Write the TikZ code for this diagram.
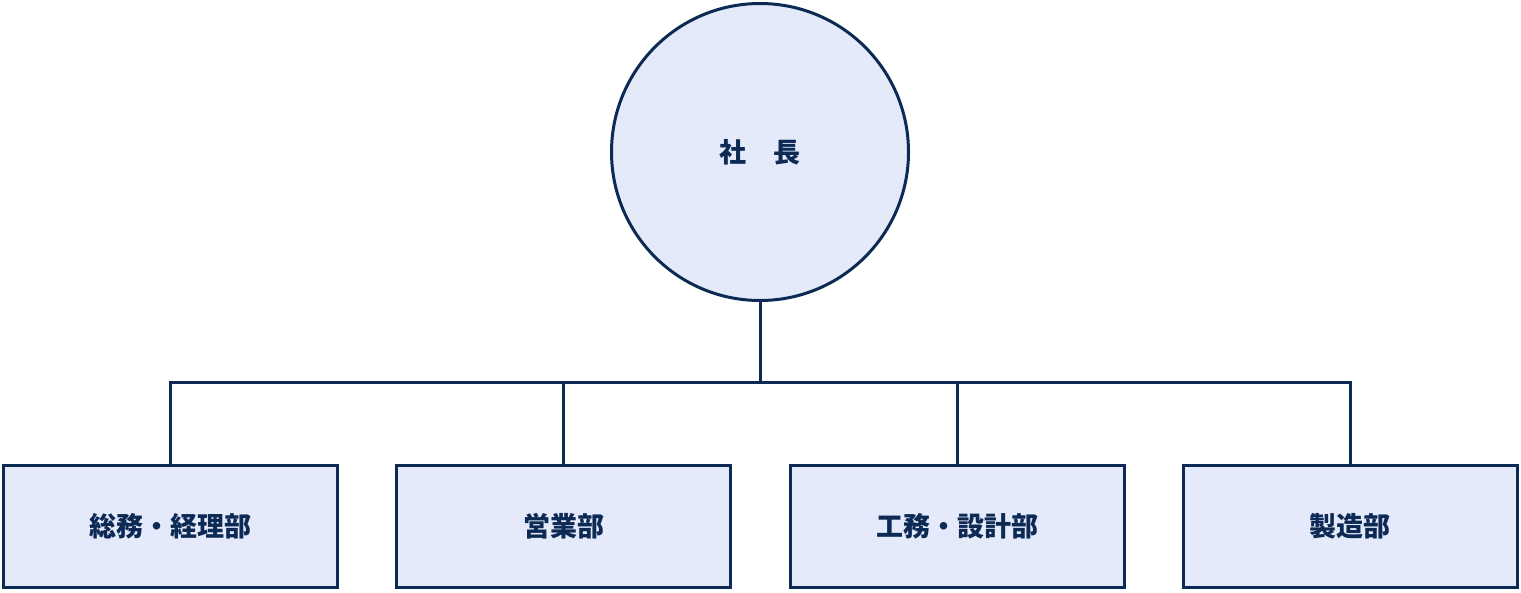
\documentclass[tikz,border=0pt]{standalone}
\usepackage{fontspec}
\newfontfamily\cjk{Noto Sans CJK JP}
\definecolor{navy}{HTML}{0D2A55}
\definecolor{pale}{HTML}{E4EAF9}
\begin{document}
\begin{tikzpicture}[x=1pt,y=-1pt,
  shp/.style={draw=navy,line width=3pt,fill=pale},
  lbl/.style={font=\cjk\bfseries\fontsize{27}{30}\selectfont,text=navy},
  conn/.style={draw=navy,line width=3pt}]
\useasboundingbox (0,0) rectangle (1521,592);
\node[shp,circle,minimum size=297pt,inner sep=0pt] (top) at (760,152) {};
\node[lbl] at (top) {社\hspace{1em}長};
\node[shp,rectangle,minimum width=334pt,minimum height=122pt] (a) at (170,526.5) {};
\node[lbl] at (a) {総務・経理部};
\node[shp,rectangle,minimum width=334pt,minimum height=122pt] (b) at (563.5,526.5) {};
\node[lbl] at (b) {営業部};
\node[shp,rectangle,minimum width=334pt,minimum height=122pt] (c) at (957,526.5) {};
\node[lbl] at (c) {工務・設計部};
\node[shp,rectangle,minimum width=334pt,minimum height=122pt] (d) at (1350,526.5) {};
\node[lbl] at (d) {製造部};
\coordinate (j) at (760,382);
\draw[conn] (top.south) -- (j);
\draw[conn,line cap=rect] (a.north) |- (j) -| (d.north);
\draw[conn] (b.north) -- (b.north |- j);
\draw[conn] (c.north) -- (c.north |- j);
\end{tikzpicture}
\end{document}
